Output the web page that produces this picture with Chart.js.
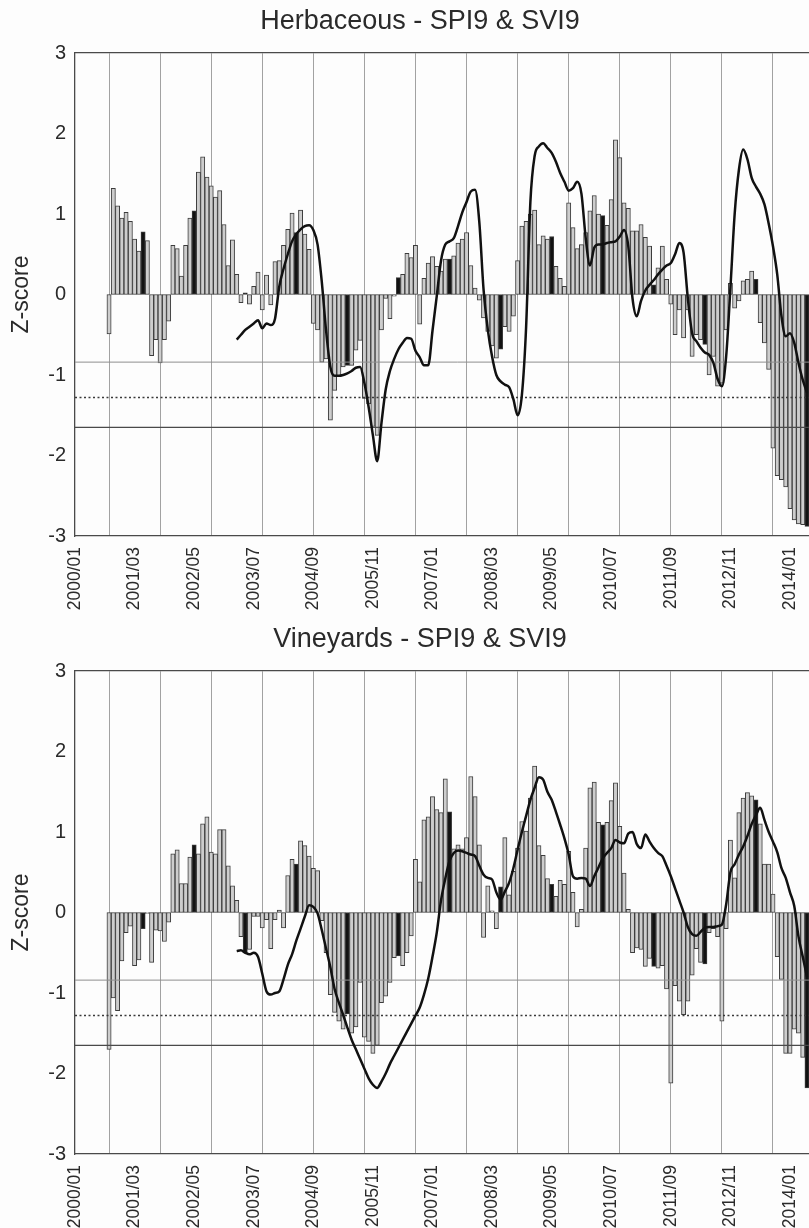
<!DOCTYPE html>
<html>
<head>
<meta charset="utf-8">
<script src="https://cdn.jsdelivr.net/npm/chart.js@4.4.1/dist/chart.umd.min.js"></script>
<style>
  html, body { margin:0; padding:0; background:#fdfdfd; overflow:hidden; width:809px; height:1228px; }
  #wrap { position:relative; width:809px; height:1228px; overflow:hidden; }
  canvas { position:absolute; left:0; }
  #c1 { top:0; }
  #c2 { top:618px; }
</style>
</head>
<body>
<div id="wrap">
  <canvas id="c1" width="840" height="618"></canvas>
  <canvas id="c2" width="840" height="618"></canvas>
</div>
<script>
// ---------------- DATA ----------------
const tickLabels = ['2000/01','2001/03','2002/05','2003/07','2004/09','2005/11','2007/01',
                    '2008/03','2009/05','2010/07','2011/09','2012/11','2014/01'];
const panelTitles = ['Herbaceous - SPI9 & SVI9', 'Vineyards - SPI9 & SVI9'];
const yAxisTitle = 'Z-score';
const thresholds = [-0.84, -1.28, -1.65];

// SVI9 monthly bars, first value = 2000/09
const svi9Start = '2000/09';
// SPI9 monthly line, first value = 2003/03
const spi9Start = '2003/03';

const herbSvi9 = [
  -0.49, 1.32, 1.10, 0.95,
  1.02, 0.91, 0.69, 0.54, 0.78, 0.67, -0.76, -0.56, -0.85, -0.56, -0.33, 0.61,
  0.57, 0.23, 0.61, 0.95, 1.04, 1.52, 1.71, 1.46, 1.35, 1.21, 1.29, 0.87,
  0.36, 0.68, 0.25, -0.10, 0.02, -0.12, 0.10, 0.28, -0.19, 0.24, -0.13, 0.41,
  0.42, 0.61, 0.81, 1.01, 0.77, 1.05, 0.75, 0.56, -0.36, -0.44, -0.84, -0.80,
  -1.56, -1.19, -1.02, -0.90, -0.88, -0.88, -0.69, -0.57, -1.29, -1.36, -1.64, -1.75,
  -0.44, -0.05, -0.30, -0.02, 0.21, 0.25, 0.51, 0.46, 0.61, -0.37, 0.20, 0.39,
  0.47, 0.35, 0.29, 0.44, 0.44, 0.48, 0.64, 0.69, 0.77, 0.36, 0.08, -0.07,
  -0.29, -0.46, -0.64, -0.79, -0.68, -0.40, -0.46, -0.27, 0.42, 0.85, 0.91, 1.00,
  1.05, 0.62, 0.73, 0.69, 0.72, 0.35, 0.20, 0.10, 1.14, 0.83, 0.57, 0.62,
  0.77, 1.04, 1.23, 1.00, 0.98, 0.86, 1.18, 1.92, 1.70, 1.14, 1.07, 0.79,
  0.79, 0.87, 0.71, 0.60, 0.12, 0.33, 0.60, 0.19, -0.12, -0.50, -0.19, -0.54,
  -0.19, -0.77, -0.50, -0.56, -0.62, -1.00, -0.77, -1.14, -1.10, -0.44, 0.14, -0.17,
  -0.08, 0.17, 0.19, 0.29, 0.19, -0.35, -0.60, -0.93, -1.91, -2.25, -2.30, -2.39,
  -2.66, -2.80, -2.85, -2.86, -2.88
];
const herbSpi9 = [
  -0.56, -0.50, -0.44, -0.40, -0.36, -0.32, -0.42, -0.36, -0.38, -0.30,
  0.10, 0.32, 0.50, 0.66, 0.75, 0.81, 0.85, 0.86, 0.80, 0.62, 0.15, -0.45,
  -0.90, -1.01, -1.01, -1.00, -0.98, -0.95, -0.91, -0.90, -1.10, -1.40, -1.75, -2.07,
  -1.60, -1.18, -0.95, -0.80, -0.68, -0.60, -0.54, -0.55, -0.70, -0.78, -0.88, -0.88,
  -0.45, -0.02, 0.42, 0.62, 0.66, 0.70, 0.85, 1.02, 1.15, 1.28, 1.30, 0.90,
  0.06, -0.44, -0.77, -1.00, -1.08, -1.12, -1.15, -1.30, -1.50, -1.25, -0.40, 1.15,
  1.72, 1.84, 1.88, 1.82, 1.76, 1.65, 1.51, 1.40, 1.29, 1.32, 1.40, 1.25,
  0.70, 0.36, 0.58, 0.62, 0.62, 0.64, 0.65, 0.66, 0.72, 0.80, 0.60, -0.05,
  -0.27, -0.08, 0.05, 0.12, 0.18, 0.25, 0.31, 0.36, 0.39, 0.50, 0.64, 0.52,
  -0.05, -0.48, -0.58, -0.66, -0.72, -0.75, -0.85, -1.05, -1.14, -0.77, 0.08, 1.00,
  1.55, 1.80, 1.68, 1.45, 1.34, 1.25, 1.12, 0.88, 0.60, 0.25, -0.27, -0.52,
  -0.48, -0.60, -0.85, -1.06, -1.22
];
const vinSvi9 = [
  -1.70, -1.06, -1.22, -0.60,
  -0.25, -0.17, -0.66, -0.59, -0.20, -0.01, -0.62, -0.22, -0.23, -0.36, -0.12, 0.73,
  0.78, 0.36, 0.36, 0.69, 0.84, 0.73, 1.10, 1.19, 0.75, 0.73, 1.03, 1.03,
  0.58, 0.33, 0.15, -0.30, -0.50, -0.46, -0.05, -0.05, -0.19, -0.09, -0.45, -0.09,
  0.03, -0.19, 0.46, 0.66, 0.60, 0.89, 0.83, 0.70, 0.55, 0.52, -0.10, -0.50,
  -1.02, -1.24, -1.35, -1.45, -1.26, -1.50, -1.42, -0.87, -1.55, -1.60, -1.75, -1.65,
  -1.12, -1.04, -0.87, -0.56, -0.54, -0.66, -0.50, -0.29, 0.66, 0.38, 1.15, 1.19,
  1.44, 1.28, 1.24, 1.66, 1.25, 0.79, 0.84, 0.79, 0.93, 1.69, 1.44, 0.84,
  -0.31, 0.33, 0.02, -0.20, 0.32, 0.93, 0.22, 0.51, 0.80, 1.13, 1.01, 1.42,
  1.82, 0.83, 0.71, 0.42, 0.35, 0.20, 0.40, 0.35, 0.76, 0.25, -0.18, 0.04,
  0.80, 1.55, 1.62, 1.12, 1.09, 1.12, 1.39, 1.61, 1.07, 0.49, 0.04, -0.50,
  -0.44, -0.46, -0.67, -0.57, -0.67, -0.69, -0.66, -0.95, -2.12, -0.91, -1.10, -1.27,
  -1.10, -0.78, -0.45, -0.62, -0.64, -0.25, -0.20, -0.30, -1.35, -0.20, 0.90, 0.43,
  1.24, 1.42, 1.49, 1.45, 1.40, 1.10, 0.60, 0.60, 0.23, -0.55, -0.83, -1.75,
  -1.75, -1.45, -1.50, -1.80, -2.18
];
const vinSpi9 = [
  -0.48, -0.47, -0.50, -0.52, -0.50, -0.55, -0.76, -0.98, -1.02, -1.00,
  -0.98, -0.83, -0.65, -0.52, -0.35, -0.20, -0.05, 0.09, 0.07, -0.01, -0.22, -0.45,
  -0.68, -0.95, -1.12, -1.27, -1.43, -1.58, -1.70, -1.82, -1.94, -2.06, -2.14, -2.18,
  -2.10, -2.00, -1.88, -1.78, -1.68, -1.58, -1.48, -1.38, -1.28, -1.18, -1.02, -0.82,
  -0.55, -0.25, 0.15, 0.42, 0.64, 0.74, 0.77, 0.76, 0.74, 0.72, 0.70, 0.58,
  0.47, 0.43, 0.41, 0.25, 0.16, 0.26, 0.37, 0.55, 0.78, 1.00, 1.20, 1.40,
  1.55, 1.68, 1.65, 1.50, 1.40, 1.25, 1.09, 0.92, 0.72, 0.45, 0.42, 0.43,
  0.42, 0.33, 0.45, 0.56, 0.67, 0.74, 0.80, 0.90, 0.87, 0.86, 0.98, 1.00,
  0.85, 0.80, 0.97, 0.88, 0.80, 0.74, 0.70, 0.58, 0.45, 0.30, 0.15, 0.00,
  -0.18, -0.27, -0.29, -0.24, -0.19, -0.18, -0.18, -0.17, -0.15, 0.10, 0.50, 0.60,
  0.72, 0.82, 0.95, 1.10, 1.21, 1.30, 1.15, 1.00, 0.88, 0.75, 0.55, 0.43,
  0.25, 0.08, -0.30, -0.55, -0.80
];

// ---------------- CHART ----------------
Chart.defaults.font.family = "'Liberation Sans', Arial, Helvetica, sans-serif";
Chart.defaults.color = '#2a2a2a';

const monthIndex = s => { const p = s.split('/').map(Number); return (p[0] - 2000) * 12 + (p[1] - 1); };
const X_MAX = 179.75;
const gridMonths = [];
for (let yr = 2000; yr <= 2014; yr++) gridMonths.push(monthIndex(yr + '/09'));

const thrStyles = [
  { color: '#8e8e8e', width: 1,   dash: [] },
  { color: '#3a3a3a', width: 1.6, dash: [2, 2.5] },
  { color: '#4a4a4a', width: 1.3, dash: [] }
];

function buildChart(id, titleText, svi, spi) {
  const s0 = monthIndex(svi9Start), p0 = monthIndex(spi9Start);
  const barData = svi.map((v, i) => ({ x: s0 + i, y: v }));
  const lineData = spi.map((v, i) => ({ x: p0 + i, y: v }));
  const thrSets = thresholds.map((t, k) => ({
    type: 'line', xAxisID: 'x', yAxisID: 'y',
    data: [{ x: 0, y: t }, { x: X_MAX, y: t }],
    borderColor: thrStyles[k].color, borderWidth: thrStyles[k].width,
    borderDash: thrStyles[k].dash, pointRadius: 0, order: 1
  }));

  new Chart(document.getElementById(id), {
    type: 'bar',
    data: {
      datasets: [
        { type: 'line', label: 'SPI9', xAxisID: 'x', yAxisID: 'y', data: lineData,
          borderColor: '#111', borderWidth: 2.5, pointRadius: 0,
          cubicInterpolationMode: 'monotone', order: 0 },
        ...thrSets,
        { type: 'bar', label: 'SVI9', xAxisID: 'x', yAxisID: 'y', data: barData,
          backgroundColor: c => (((s0 + c.dataIndex) % 12) === 4 ? '#121212' : '#cdcdcd'),
          borderColor: '#3c3c3c', borderWidth: 1, borderSkipped: false,
          barPercentage: 1.0, categoryPercentage: 1, order: 2 }
      ]
    },
    options: {
      responsive: false, animation: false, devicePixelRatio: 1,
      layout: { padding: 0 },
      plugins: {
        legend: { display: false },
        tooltip: { enabled: false },
        title: { display: true, text: titleText, color: '#2a2a2a',
                 font: { size: 27, weight: 'normal', lineHeight: 1.0 }, padding: { top: 8, bottom: 18 } }
      },
      scales: {
        x: {
          type: 'linear', position: 'bottom', min: 0, max: X_MAX, offset: false,
          afterBuildTicks: sc => { sc.ticks = tickLabels.map(l => ({ value: monthIndex(l) })); },
          afterFit: sc => { sc.height = 82; },
          ticks: { autoSkip: false, minRotation: 90, maxRotation: 90, padding: 11,
                   font: { size: 17.5 }, color: '#2a2a2a',
                   callback: v => { const l = tickLabels.find(t => monthIndex(t) === v); return l || ''; } },
          grid: { display: false, drawTicks: false, offset: false },
          border: { display: true, color: '#4a4a4a', width: 1.3 }
        },
        xg: {
          type: 'linear', position: 'top', min: 0, max: X_MAX, offset: false,
          afterBuildTicks: sc => { sc.ticks = gridMonths.map(v => ({ value: v })); },
          afterFit: sc => { sc.height = 0; },
          ticks: { display: false },
          grid: { display: true, color: '#a2a2a2', lineWidth: 1, drawTicks: false, offset: false },
          border: { display: true, color: '#4a4a4a', width: 1.3 }
        },
        y: {
          type: 'linear', position: 'left', min: -3, max: 3,
          afterFit: sc => { sc.width = 75; },
          ticks: { stepSize: 1, padding: 9, font: { size: 20 }, color: '#2a2a2a' },
          grid: { display: false, drawTicks: false },
          border: { display: true, color: '#4a4a4a', width: 1.3 },
          title: { display: true, text: yAxisTitle, color: '#2a2a2a',
                   font: { size: 23, lineHeight: 1.1 }, padding: { top: 9, bottom: 0 } }
        }
      }
    }
  });
}

buildChart('c1', panelTitles[0], herbSvi9, herbSpi9);
buildChart('c2', panelTitles[1], vinSvi9, vinSpi9);
</script>
</body>
</html>
